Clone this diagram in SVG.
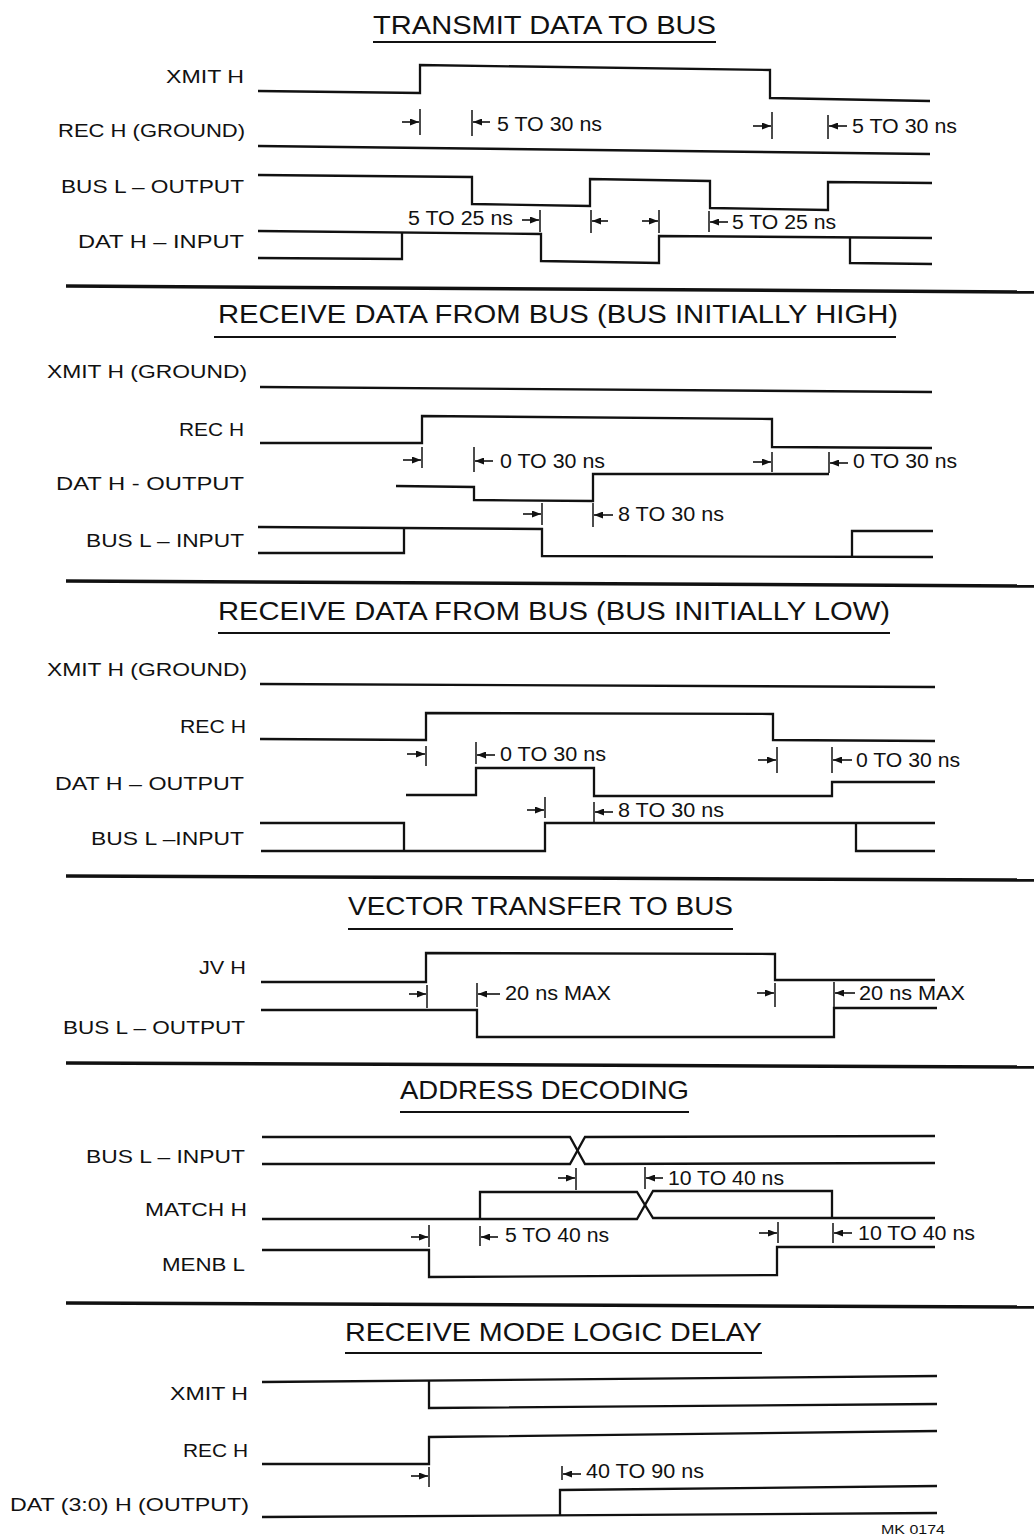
<svg xmlns="http://www.w3.org/2000/svg" width="1034" height="1539" viewBox="0 0 1034 1539">
<style>
.sig{fill:none;stroke:#111;stroke-width:2.3;stroke-linejoin:miter}
.tick{stroke:#111;stroke-width:1.5;fill:none}
.arr{stroke:#111;stroke-width:1.6;fill:none;marker-end:url(#ah)}
.rule{stroke:#111;stroke-width:3.5;fill:none}
.ul{stroke:#111;stroke-width:2;fill:none}
text{font-family:"Liberation Sans",Arial,Helvetica,sans-serif;fill:#111}
.lbl{font-size:19px}
.ann{font-size:20px}
.ttl{font-size:25px}
.mk{font-size:12px}
</style>
<defs>
<marker id="ah" markerUnits="userSpaceOnUse" markerWidth="9" markerHeight="7" refX="9" refY="3.5" orient="auto">
<path d="M0,0 L9,3.5 L0,7 z" fill="#111"/>
</marker>
</defs>

<g id="rules">
<path class="rule" d="M66,286 L1034,292"/>
<path class="rule" d="M66,581 L1034,586"/>
<path class="rule" d="M66,876 L1034,880"/>
<path class="rule" d="M66,1063 L1034,1067"/>
<path class="rule" d="M66,1303 L1034,1307"/>
</g>

<!-- Section 1 -->
<g id="sec1">
<text class="ttl" x="373" y="34" textLength="343" lengthAdjust="spacingAndGlyphs">TRANSMIT DATA TO BUS</text>
<path class="ul" d="M373,42 L716,42"/>
<g id="s1-xmit"><text class="lbl" x="166" y="83" textLength="78" lengthAdjust="spacingAndGlyphs">XMIT H</text>
<path class="sig" d="M258,91 L420,93 L420,65 L770,70 L770,98 L930,101"/></g>
<g id="s1-rec"><text class="lbl" x="58" y="137" textLength="187" lengthAdjust="spacingAndGlyphs">REC H (GROUND)</text>
<path class="sig" d="M258,146 L930,154"/></g>
<g id="s1-bus"><text class="lbl" x="61" y="193" textLength="183" lengthAdjust="spacingAndGlyphs">BUS L – OUTPUT</text>
<path class="sig" d="M258,175 L472,177 L472,204 L590,206 L590,179 L710,181 L710,208 L828,210 L828,182 L932,183"/></g>
<g id="s1-dat"><text class="lbl" x="78" y="248" textLength="166" lengthAdjust="spacingAndGlyphs">DAT H – INPUT</text>
<path class="sig" d="M258,231 L541,234 L541,261 L659,263 L659,236 L932,238"/>
<path class="sig" d="M258,258 L402,259 L402,232"/>
<path class="sig" d="M850,238 L850,263 L932,264"/></g>
<g id="s1-timing">
<path class="arr" d="M402,122 L419,122"/><path class="tick" d="M420,109 V135"/>
<path class="tick" d="M472,110 V136"/><path class="arr" d="M490,122 L473,122"/>
<text class="ann" x="497" y="131" textLength="105" lengthAdjust="spacingAndGlyphs">5 TO 30 ns</text>
<path class="arr" d="M753,126 L771,126"/><path class="tick" d="M772,112 V139"/>
<path class="tick" d="M828,115 V139"/><path class="arr" d="M847,126 L829,126"/>
<text class="ann" x="852" y="133" textLength="105" lengthAdjust="spacingAndGlyphs">5 TO 30 ns</text>
<text class="ann" x="408" y="225" textLength="105" lengthAdjust="spacingAndGlyphs">5 TO 25 ns</text>
<path class="arr" d="M522,220 L539,220"/><path class="tick" d="M540,210 V232"/>
<path class="tick" d="M591,210 V233"/><path class="arr" d="M608,221 L592,221"/>
<path class="arr" d="M642,221 L658,221"/><path class="tick" d="M659,210 V233"/>
<path class="tick" d="M709,211 V232"/><path class="arr" d="M728,222 L710,222"/>
<text class="ann" x="732" y="229" textLength="104" lengthAdjust="spacingAndGlyphs">5 TO 25 ns</text>
</g>
</g>

<!-- Section 2 -->
<g id="sec2">
<text class="ttl" x="218" y="323" textLength="680" lengthAdjust="spacingAndGlyphs">RECEIVE DATA FROM BUS (BUS INITIALLY HIGH)</text>
<path class="ul" d="M214,337 L896,337"/>
<g id="s2-xmit"><text class="lbl" x="47" y="378" textLength="200" lengthAdjust="spacingAndGlyphs">XMIT H (GROUND)</text>
<path class="sig" d="M260,387 L932,392"/></g>
<g id="s2-rec"><text class="lbl" x="179" y="436" textLength="65" lengthAdjust="spacingAndGlyphs">REC H</text>
<path class="sig" d="M260,443 L422,443 L422,416 L772,419 L772,447 L932,448"/></g>
<g id="s2-dat"><text class="lbl" x="56" y="490" textLength="188" lengthAdjust="spacingAndGlyphs">DAT H - OUTPUT</text>
<path class="sig" d="M396,486 L474,487 L474,500 L593,501 L593,474 L829,474"/></g>
<g id="s2-bus"><text class="lbl" x="86" y="547" textLength="158" lengthAdjust="spacingAndGlyphs">BUS L – INPUT</text>
<path class="sig" d="M258,527 L542,529 L542,556 L933,557"/>
<path class="sig" d="M258,553 L404,553 L404,528"/>
<path class="sig" d="M852,557 L852,531 L933,531"/></g>
<g id="s2-timing">
<path class="arr" d="M403,460 L421,460"/><path class="tick" d="M422,447 V468"/>
<path class="tick" d="M474,447 V472"/><path class="arr" d="M493,461 L475,461"/>
<text class="ann" x="500" y="468" textLength="105" lengthAdjust="spacingAndGlyphs">0 TO 30 ns</text>
<path class="arr" d="M753,462 L771,462"/><path class="tick" d="M772,452 V472"/>
<path class="tick" d="M829,452 V473"/><path class="arr" d="M848,463 L830,463"/>
<text class="ann" x="853" y="468" textLength="104" lengthAdjust="spacingAndGlyphs">0 TO 30 ns</text>
<path class="arr" d="M523,514 L541,514"/><path class="tick" d="M542,503 V525"/>
<path class="tick" d="M593,503 V527"/><path class="arr" d="M613,515 L594,515"/>
<text class="ann" x="618" y="521" textLength="106" lengthAdjust="spacingAndGlyphs">8 TO 30 ns</text>
</g>
</g>

<!-- Section 3 -->
<g id="sec3">
<text class="ttl" x="218" y="620" textLength="672" lengthAdjust="spacingAndGlyphs">RECEIVE DATA FROM BUS (BUS INITIALLY LOW)</text>
<path class="ul" d="M218,633 L890,633"/>
<g id="s3-xmit"><text class="lbl" x="47" y="676" textLength="200" lengthAdjust="spacingAndGlyphs">XMIT H (GROUND)</text>
<path class="sig" d="M260,684 L935,687"/></g>
<g id="s3-rec"><text class="lbl" x="180" y="733" textLength="66" lengthAdjust="spacingAndGlyphs">REC H</text>
<path class="sig" d="M260,739 L426,740 L426,713 L773,714 L773,740 L935,741"/></g>
<g id="s3-dat"><text class="lbl" x="55" y="790" textLength="189" lengthAdjust="spacingAndGlyphs">DAT H – OUTPUT</text>
<path class="sig" d="M406,795 L476,795 L476,768 L594,768 L594,796 L832,796 L832,782 L935,782"/></g>
<g id="s3-bus"><text class="lbl" x="91" y="845" textLength="153" lengthAdjust="spacingAndGlyphs">BUS L –INPUT</text>
<path class="sig" d="M260,823 L404,823 L404,851"/>
<path class="sig" d="M261,851 L545,851 L545,823 L935,823"/>
<path class="sig" d="M856,823 L856,851 L935,851"/></g>
<g id="s3-timing">
<path class="arr" d="M407,754 L425,754"/><path class="tick" d="M426,746 V766"/>
<path class="tick" d="M476,742 V764"/><path class="arr" d="M495,755 L477,755"/>
<text class="ann" x="500" y="761" textLength="106" lengthAdjust="spacingAndGlyphs">0 TO 30 ns</text>
<path class="arr" d="M758,760 L776,760"/><path class="tick" d="M777,747 V773"/>
<path class="tick" d="M832,747 V773"/><path class="arr" d="M852,760 L833,760"/>
<text class="ann" x="856" y="767" textLength="104" lengthAdjust="spacingAndGlyphs">0 TO 30 ns</text>
<path class="arr" d="M527,810 L544,810"/><path class="tick" d="M545,797 V818"/>
<path class="tick" d="M594,802 V822"/><path class="arr" d="M613,812 L595,812"/>
<text class="ann" x="618" y="817" textLength="106" lengthAdjust="spacingAndGlyphs">8 TO 30 ns</text>
</g>
</g>

<!-- Section 4 -->
<g id="sec4">
<text class="ttl" x="348" y="915" textLength="385" lengthAdjust="spacingAndGlyphs">VECTOR TRANSFER TO BUS</text>
<path class="ul" d="M348,929 L733,929"/>
<g id="s4-jv"><text class="lbl" x="199" y="974" textLength="47" lengthAdjust="spacingAndGlyphs">JV H</text>
<path class="sig" d="M261,982 L426,982 L426,953 L775,954 L775,980 L935,980"/></g>
<g id="s4-bus"><text class="lbl" x="63" y="1034" textLength="182" lengthAdjust="spacingAndGlyphs">BUS L – OUTPUT</text>
<path class="sig" d="M261,1010 L477,1010 L477,1037 L834,1037 L834,1008 L937,1008"/></g>
<g id="s4-timing">
<path class="arr" d="M409,994 L426,994"/><path class="tick" d="M427,985 V1008"/>
<path class="tick" d="M477,983 V1007"/><path class="arr" d="M500,994 L478,994"/>
<text class="ann" x="505" y="1000" textLength="106" lengthAdjust="spacingAndGlyphs">20 ns MAX</text>
<path class="arr" d="M757,993 L774,993"/><path class="tick" d="M775,983 V1007"/>
<path class="tick" d="M834,982 V1010"/><path class="arr" d="M855,993 L835,993"/>
<text class="ann" x="859" y="1000" textLength="106" lengthAdjust="spacingAndGlyphs">20 ns MAX</text>
</g>
</g>

<!-- Section 5 -->
<g id="sec5">
<text class="ttl" x="400" y="1099" textLength="289" lengthAdjust="spacingAndGlyphs">ADDRESS DECODING</text>
<path class="ul" d="M400,1112 L689,1112"/>
<g id="s5-bus"><text class="lbl" x="86" y="1163" textLength="159" lengthAdjust="spacingAndGlyphs">BUS L – INPUT</text>
<path class="sig" d="M262,1137 L570,1137 L585,1164 L935,1163"/>
<path class="sig" d="M262,1164 L570,1164 L585,1137 L935,1136"/></g>
<g id="s5-match"><text class="lbl" x="145" y="1216" textLength="102" lengthAdjust="spacingAndGlyphs">MATCH H</text>
<path class="sig" d="M262,1219 L637,1219 L653,1191 L832,1191 L832,1218"/>
<path class="sig" d="M480,1219 L480,1192 L637,1192 L653,1218 L935,1218"/></g>
<g id="s5-menb"><text class="lbl" x="162" y="1271" textLength="83" lengthAdjust="spacingAndGlyphs">MENB L</text>
<path class="sig" d="M262,1250 L429,1250 L429,1277 L777,1275 L777,1247 L935,1247"/></g>
<g id="s5-timing">
<path class="arr" d="M558,1178 L575,1178"/><path class="tick" d="M576,1168 V1190"/>
<path class="tick" d="M645,1167 V1189"/><path class="arr" d="M663,1178 L646,1178"/>
<text class="ann" x="668" y="1185" textLength="116" lengthAdjust="spacingAndGlyphs">10 TO 40 ns</text>
<path class="arr" d="M411,1237 L428,1237"/><path class="tick" d="M429,1225 V1247"/>
<path class="tick" d="M480,1226 V1246"/><path class="arr" d="M498,1237 L481,1237"/>
<text class="ann" x="505" y="1242" textLength="104" lengthAdjust="spacingAndGlyphs">5 TO 40 ns</text>
<path class="arr" d="M759,1233 L777,1233"/><path class="tick" d="M778,1222 V1243"/>
<path class="tick" d="M833,1223 V1243"/><path class="arr" d="M852,1233 L834,1233"/>
<text class="ann" x="858" y="1240" textLength="117" lengthAdjust="spacingAndGlyphs">10 TO 40 ns</text>
</g>
</g>

<!-- Section 6 -->
<g id="sec6">
<text class="ttl" x="345" y="1341" textLength="417" lengthAdjust="spacingAndGlyphs">RECEIVE MODE LOGIC DELAY</text>
<path class="ul" d="M345,1353 L762,1353"/>
<g id="s6-xmit"><text class="lbl" x="170" y="1400" textLength="78" lengthAdjust="spacingAndGlyphs">XMIT H</text>
<path class="sig" d="M262,1382 L937,1376"/>
<path class="sig" d="M429,1381 L429,1408 L937,1404"/></g>
<g id="s6-rec"><text class="lbl" x="183" y="1457" textLength="65" lengthAdjust="spacingAndGlyphs">REC H</text>
<path class="sig" d="M262,1464 L429,1464 L429,1437 L937,1431"/></g>
<g id="s6-dat"><text class="lbl" x="10" y="1511" textLength="239" lengthAdjust="spacingAndGlyphs">DAT (3:0) H (OUTPUT)</text>
<path class="sig" d="M262,1517 L937,1513"/>
<path class="sig" d="M560,1516 L560,1490 L937,1486"/></g>
<g id="s6-timing">
<path class="arr" d="M411,1476 L428,1476"/><path class="tick" d="M429,1467 V1487"/>
<path class="tick" d="M562,1466 V1480"/><path class="arr" d="M581,1474 L563,1474"/>
<text class="ann" x="586" y="1478" textLength="118" lengthAdjust="spacingAndGlyphs">40 TO 90 ns</text>
</g>
<text class="mk" x="881" y="1534" textLength="64" lengthAdjust="spacingAndGlyphs">MK 0174</text>
</g>
</svg>
